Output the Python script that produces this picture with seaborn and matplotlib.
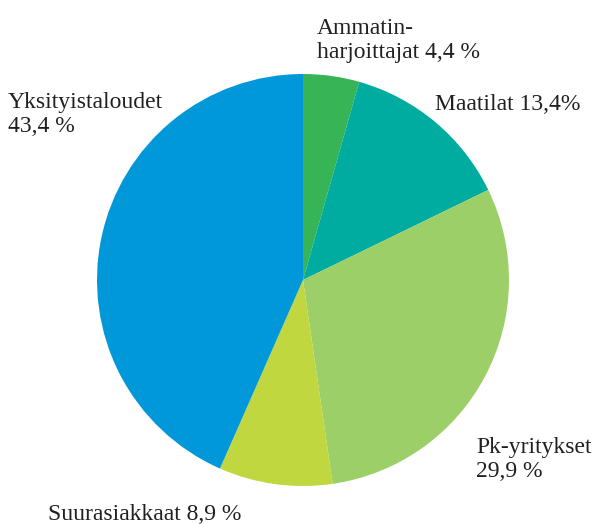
import matplotlib
matplotlib.use("Agg")
import matplotlib.pyplot as plt
import seaborn as sns

sns.set_style("white")
plt.rcParams['font.family'] = ['Liberation Serif', 'DejaVu Serif']

categories = ['Ammatinharjoittajat', 'Maatilat', 'Pk-yritykset', 'Suurasiakkaat', 'Yksityistaloudet']
shares = [4.4, 13.4, 29.9, 8.9, 43.4]
labels = ['Ammatin-\nharjoittajat 4,4 %', 'Maatilat 13,4%', 'Pk-yritykset\n29,9 %',
          'Suurasiakkaat 8,9 %', 'Yksityistaloudet\n43,4 %']
colors = ['#37b456', '#00aba0', '#9dcf68', '#c0d73f', '#0098d8']

W, H = 601, 524
fig = plt.figure(figsize=(W / 100, H / 100), dpi=100)
ax = fig.add_axes([0, 0, 1, 1])

ax.pie(shares, colors=colors, startangle=90, counterclock=False,
       center=(303, H - 280), radius=206, frame=True,
       wedgeprops=dict(linewidth=0))
ax.set_xlim(0, W)
ax.set_ylim(0, H)
ax.set_aspect('equal')
ax.axis('off')

# label anchors: left x, baseline of the last line (pixels from top)
pos = [(317, 58), (435, 110), (476, 477), (48, 520), (8, 132)]
for lab, (x, y) in zip(labels, pos):
    ax.text(x, H - y, lab, fontsize=17, color='#231f20', ha='left', va='baseline',
            linespacing=1.2)

fig.savefig('out.png', dpi=100)
